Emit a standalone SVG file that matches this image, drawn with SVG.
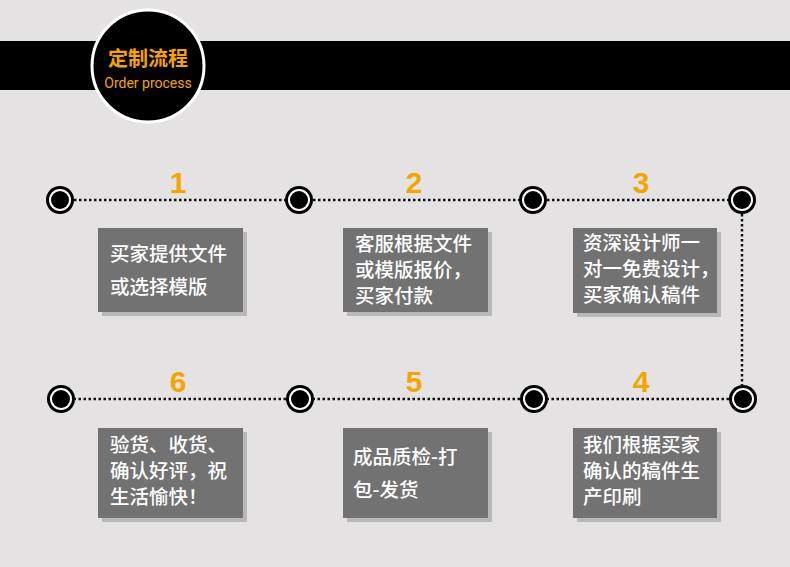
<svg xmlns="http://www.w3.org/2000/svg" width="790" height="567" viewBox="0 0 790 567">
<defs>
<style>
.cn{font-family:"Noto Sans CJK SC","Noto Sans",sans-serif}
.num{font-family:"Liberation Sans",Arial,sans-serif;font-weight:bold;font-size:30px;fill:#f6a500;text-anchor:middle}
.bx{fill:#727272}.sh{fill:#b8b8b8}
.bt{font-family:"Noto Sans CJK SC",sans-serif;font-size:19.5px;fill:#fff;font-weight:500}
.ln{stroke:#111;stroke-width:2.5;stroke-dasharray:2.5 2.5;fill:none}
</style>
<g id="dot"><circle r="14" fill="#000"/><circle r="11" fill="#fff"/><circle r="9" fill="#000"/></g>
</defs>
<rect width="790" height="567" fill="#e4e2e3"/>
<g id="header">
<rect x="0" y="41" width="790" height="49" fill="#000"/>
<circle cx="148" cy="66" r="56" fill="#000" stroke="#fff" stroke-width="3"/>
<text x="148" y="66" class="cn" font-size="20" font-weight="bold" fill="#f6a500" text-anchor="middle">定制流程</text>
<text x="148" y="88" font-family="Roboto,'Liberation Sans',sans-serif" font-size="14" fill="#f6a500" text-anchor="middle">Order process</text>
</g>
<g id="connectors">
<path class="ln" d="M74 200H285M313 200H519M547 200H728M742 214V385M729 399H548M520 399H314M286 399H75"/>
</g>
<g id="n1"><use href="#dot" x="60" y="200"/><text class="num" x="178" y="193">1</text>
<rect class="sh" x="102" y="232" width="145" height="84"/><rect class="bx" x="98" y="228" width="145" height="84"/>
<text class="bt" x="110" y="261">买家提供文件</text><text class="bt" x="110" y="294">或选择模版</text></g>
<g id="n2"><use href="#dot" x="299" y="200"/><text class="num" x="414" y="193">2</text>
<rect class="sh" x="347" y="232" width="145" height="84"/><rect class="bx" x="343" y="228" width="145" height="84"/>
<text class="bt" x="355" y="251">客服根据文件</text><text class="bt" x="355" y="277">或模版报价，</text><text class="bt" x="355" y="303">买家付款</text></g>
<g id="n3"><use href="#dot" x="533" y="200"/><use href="#dot" x="742" y="200"/><text class="num" x="641" y="193">3</text>
<rect class="sh" x="577" y="232" width="144" height="85"/><rect class="bx" x="573" y="228" width="144" height="85"/>
<text class="bt" x="583" y="250">资深设计师一</text><text class="bt" x="583" y="276">对一免费设计，</text><text class="bt" x="583" y="302">买家确认稿件</text></g>
<g id="n4"><use href="#dot" x="743" y="399"/><use href="#dot" x="534" y="399"/><text class="num" x="641" y="392">4</text>
<rect class="sh" x="577" y="432" width="144" height="90"/><rect class="bx" x="573" y="428" width="144" height="90"/>
<text class="bt" x="583" y="452">我们根据买家</text><text class="bt" x="583" y="478">确认的稿件生</text><text class="bt" x="583" y="504">产印刷</text></g>
<g id="n5"><use href="#dot" x="300" y="399"/><text class="num" x="414" y="392">5</text>
<rect class="sh" x="347" y="432" width="145" height="90"/><rect class="bx" x="343" y="428" width="145" height="90"/>
<text class="bt" x="353" y="464">成品质检-打</text><text class="bt" x="353" y="497">包-发货</text></g>
<g id="n6"><use href="#dot" x="61" y="399"/><text class="num" x="178" y="392">6</text>
<rect class="sh" x="102" y="432" width="145" height="90"/><rect class="bx" x="98" y="428" width="145" height="90"/>
<text class="bt" x="110" y="452">验货、收货、</text><text class="bt" x="110" y="478">确认好评，祝</text><text class="bt" x="110" y="504">生活愉快！</text></g>
</svg>
